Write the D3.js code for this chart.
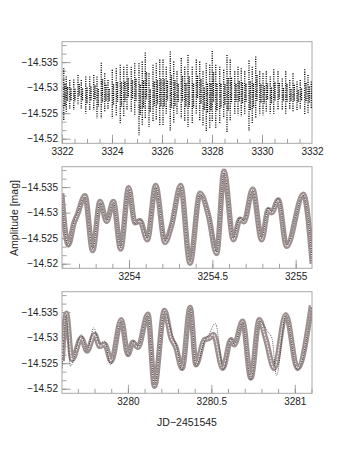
<!DOCTYPE html>
<html>
<head>
<meta charset="utf-8">
<script src="https://d3js.org/d3.v7.min.js"></script>
<style>
  body { margin:0; background:#fff; }
  svg text { font-family: "Liberation Sans", Arial, sans-serif; fill:#222; }
</style>
</head>
<body>
<script>
// ---- top panel: one entry per observing run (column of points) ----
var runDay = [3322.07, 3322.17, 3322.31, 3322.47, 3322.64, 3322.77, 3322.95, 3323.11, 3323.27, 3323.40,
              3323.57, 3323.71, 3323.84, 3324.01, 3324.17, 3324.33, 3324.47, 3324.60, 3324.77, 3324.91,
              3325.08, 3325.21, 3325.33, 3325.48, 3325.64, 3325.77, 3325.91, 3326.04, 3326.17, 3326.33,
              3326.47, 3326.60, 3326.77, 3326.91, 3327.04, 3327.21, 3327.37, 3327.51, 3327.64, 3327.77,
              3327.91, 3328.01, 3328.15, 3328.31, 3328.47, 3328.60, 3328.73, 3328.91, 3329.04, 3329.17,
              3329.31, 3329.48, 3329.61, 3329.75, 3329.91, 3330.04, 3330.17, 3330.33, 3330.47, 3330.64,
              3330.81, 3330.95, 3331.11, 3331.24, 3331.40, 3331.53, 3331.71, 3331.84, 3331.97];
var runHigh = [-14.5338, -14.5322, -14.5315, -14.5316, -14.5325, -14.5315, -14.5322, -14.5322, -14.5325, -14.5322,
               -14.5349, -14.5328, -14.5315, -14.5335, -14.5338, -14.5345, -14.5341, -14.5345, -14.5341, -14.5348,
               -14.5348, -14.5351, -14.5369, -14.5328, -14.5345, -14.5348, -14.5355, -14.5355, -14.5341, -14.5371,
               -14.5351, -14.5332, -14.5358, -14.5341, -14.5364, -14.5341, -14.5355, -14.5351, -14.5332, -14.5348,
               -14.5345, -14.5372, -14.5345, -14.5341, -14.5335, -14.5364, -14.5355, -14.5332, -14.5341, -14.5338,
               -14.5332, -14.5353, -14.5341, -14.5361, -14.5332, -14.5328, -14.5332, -14.5322, -14.5336, -14.5332,
               -14.5318, -14.5332, -14.5315, -14.5328, -14.5312, -14.5315, -14.5336, -14.5325, -14.5312];
var runLow  = [-14.5236, -14.5253, -14.5259, -14.5256, -14.5266, -14.5259, -14.5249, -14.5256, -14.5256, -14.5240,
               -14.5240, -14.5253, -14.5256, -14.5240, -14.5246, -14.5230, -14.5243, -14.5256, -14.5253, -14.5246,
               -14.5207, -14.5226, -14.5240, -14.5223, -14.5233, -14.5236, -14.5226, -14.5226, -14.5249, -14.5216,
               -14.5230, -14.5249, -14.5240, -14.5233, -14.5223, -14.5230, -14.5249, -14.5236, -14.5226, -14.5213,
               -14.5220, -14.5233, -14.5220, -14.5230, -14.5240, -14.5213, -14.5236, -14.5249, -14.5246, -14.5243,
               -14.5249, -14.5216, -14.5230, -14.5240, -14.5246, -14.5246, -14.5253, -14.5249, -14.5249, -14.5256,
               -14.5256, -14.5249, -14.5256, -14.5253, -14.5256, -14.5259, -14.5246, -14.5249, -14.5259];

// ---- middle panel: model (grey) and observed (dotted) light curve ----
var midDay   = [3253.596, 3253.636, 3253.670, 3253.690, 3253.736, 3253.782, 3253.826, 3253.866, 3253.906, 3253.950,
                3253.998, 3254.036, 3254.066, 3254.110, 3254.160, 3254.216, 3254.256, 3254.310, 3254.366, 3254.426,
                3254.476, 3254.526, 3254.570, 3254.626, 3254.666, 3254.690, 3254.742, 3254.796, 3254.836, 3254.856,
                3254.896, 3254.946, 3255.046, 3255.100];
var midModel = [-14.5338, -14.5237, -14.5280, -14.5296, -14.5333, -14.5226, -14.5322, -14.5283, -14.5322, -14.5229,
                -14.5349, -14.5280, -14.5284, -14.5247, -14.5353, -14.5242, -14.5276, -14.5353, -14.5201, -14.5338,
                -14.5296, -14.5220, -14.5381, -14.5247, -14.5287, -14.5282, -14.5346, -14.5247, -14.5306, -14.5300,
                -14.5325, -14.5234, -14.5336, -14.5200];
var midObs   = [-14.5336, -14.5234, -14.5282, -14.5298, -14.5331, -14.5229, -14.5320, -14.5285, -14.5320, -14.5232,
                -14.5347, -14.5278, -14.5287, -14.5250, -14.5351, -14.5245, -14.5278, -14.5351, -14.5204, -14.5336,
                -14.5299, -14.5223, -14.5378, -14.5250, -14.5290, -14.5284, -14.5344, -14.5250, -14.5309, -14.5302,
                -14.5328, -14.5237, -14.5334, -14.5203];

// ---- bottom panel ----
var botDay   = [3279.606, 3279.631, 3279.665, 3279.721, 3279.755, 3279.801, 3279.831, 3279.861, 3279.900, 3279.960,
                3280.000, 3280.030, 3280.060, 3280.120, 3280.159, 3280.219, 3280.259, 3280.285, 3280.325, 3280.373,
                3280.408, 3280.458, 3280.488, 3280.512, 3280.568, 3280.618, 3280.637, 3280.687, 3280.737, 3280.787,
                3280.827, 3280.876, 3280.946, 3281.016, 3281.100];
var botModel = [-14.5254, -14.5348, -14.5257, -14.5299, -14.5274, -14.5306, -14.5283, -14.5287, -14.5254, -14.5335,
                -14.5267, -14.5291, -14.5281, -14.5346, -14.5205, -14.5353, -14.5299, -14.5283, -14.5240, -14.5359,
                -14.5247, -14.5296, -14.5299, -14.5306, -14.5240, -14.5296, -14.5286, -14.5332, -14.5221, -14.5335,
                -14.5296, -14.5240, -14.5345, -14.5240, -14.5363];
var botObsDay = [3279.606, 3279.631, 3279.655, 3279.721, 3279.755, 3279.795, 3279.831, 3279.861, 3279.896, 3279.960,
                 3280.000, 3280.030, 3280.060, 3280.120, 3280.159, 3280.219, 3280.265, 3280.289, 3280.325, 3280.373,
                 3280.408, 3280.458, 3280.484, 3280.524, 3280.572, 3280.618, 3280.637, 3280.687, 3280.737, 3280.787,
                 3280.837, 3280.863, 3280.890, 3280.946, 3281.016, 3281.100];
var botObs   = [-14.5240, -14.5345, -14.5244, -14.5306, -14.5273, -14.5319, -14.5289, -14.5293, -14.5247, -14.5333,
                -14.5265, -14.5293, -14.5283, -14.5345, -14.5205, -14.5351, -14.5306, -14.5286, -14.5237, -14.5358,
                -14.5244, -14.5293, -14.5306, -14.5328, -14.5237, -14.5299, -14.5287, -14.5330, -14.5218, -14.5333,
                -14.5312, -14.5299, -14.5226, -14.5344, -14.5237, -14.5361];

// ---- axes ----
var magTicks  = [-14.52, -14.525, -14.53, -14.535];
var magLabels = ["\u221214.52", "\u221214.525", "\u221214.53", "\u221214.535"];
var topTicks  = [3322, 3324, 3326, 3328, 3330, 3332];
var topLabels = ["3322", "3324", "3326", "3328", "3330", "3332"];
var midTicks  = [3254, 3254.5, 3255];
var midLabels = ["3254", "3254.5", "3255"];
var botTicks  = [3280, 3280.5, 3281];
var botLabels = ["3280", "3280.5", "3281"];

var W = 354, H = 457;
var left = 62, right = 312, ph = 101.6;
var panelTop = [41.7, 166.7, 291.7];

var svg = d3.select("body").append("svg").attr("width", W).attr("height", H);

var y = d3.scaleLinear().domain([-14.5191, -14.5390]).range([ph, 0]);

function panel(i, xDomain, ticks, labels, minorStep, majorStep) {
    var x = d3.scaleLinear().domain(xDomain).range([0, right - left]);
    var g = svg.append("g").attr("transform", "translate(" + left + "," + panelTop[i] + ")");

    g.append("clipPath").attr("id", "clip" + i)
      .append("rect").attr("width", right - left).attr("height", ph);

    // minor / major ticks (drawn inside the frame, ROOT style)
    var minorX = d3.range(Math.ceil(xDomain[0] / minorStep) * minorStep, xDomain[1], minorStep);
    g.append("g").attr("transform", "translate(0," + ph + ")")
      .call(d3.axisBottom(x).tickValues(minorX).tickSize(-4.5).tickFormat(""));
    g.append("g").attr("transform", "translate(0," + ph + ")")
      .call(d3.axisBottom(x).tickValues(d3.range(Math.ceil(xDomain[0] / majorStep) * majorStep, xDomain[1], majorStep))
            .tickSize(-8.5).tickFormat(""));
    g.append("g").attr("transform", "translate(0," + ph + ")")
      .call(d3.axisBottom(x).tickValues(ticks).tickSize(0).tickPadding(5)
            .tickFormat(function(d, k) { return labels[k]; }))
      .selectAll("text").style("font-size", "10px");

    var minorY = d3.range(-14.52, -14.5391, -0.005 / 3);
    g.append("g").call(d3.axisLeft(y).tickValues(minorY).tickSize(-4.5).tickFormat(""));
    g.append("g").call(d3.axisLeft(y).tickValues(magTicks).tickSize(-8.5).tickPadding(4)
            .tickFormat(function(d, k) { return magLabels[k]; }))
      .selectAll("text").style("font-size", "10px").attr("x", -4);

    g.selectAll(".domain").remove();
    g.selectAll(".tick line").attr("stroke", "#8a8a8a").attr("stroke-width", 0.8);

    g.append("rect").attr("width", right - left).attr("height", ph)
      .attr("fill", "none").attr("stroke", "#a8a8a8").attr("stroke-width", 1);

    var plot = g.append("g").attr("clip-path", "url(#clip" + i + ")");
    return { x: x, plot: plot };
}

// top panel
var p0 = panel(0, [3322, 3332], topTicks, topLabels, 0.5, 2);
p0.plot.selectAll("line.run").data(runDay).enter().append("line")
  .attr("x1", function(d) { return p0.x(d); }).attr("x2", function(d) { return p0.x(d); })
  .attr("y1", function(d, k) { return y(runHigh[k]); })
  .attr("y2", function(d, k) { return y(runLow[k]); })
  .attr("stroke", "#000").attr("stroke-width", 1.3).attr("stroke-dasharray", "1.1 1.2");
// denser core of each run
p0.plot.selectAll("line.core").data(runDay).enter().append("line")
  .attr("x1", function(d) { return p0.x(d) + 1.2; }).attr("x2", function(d) { return p0.x(d) + 1.2; })
  .attr("y1", function(d, k) { return y(runHigh[k] + (runLow[k] - runHigh[k]) * 0.3); })
  .attr("y2", function(d, k) { return y(runHigh[k] + (runLow[k] - runHigh[k]) * 0.72); })
  .attr("stroke", "#000").attr("stroke-width", 1.4).attr("stroke-dasharray", "1.2 0.9");

function curve(p, days, model, obsDays, obs) {
    var mLine = d3.line().x(function(d) { return p.x(d[0]); }).y(function(d) { return y(d[1]); })
      .curve(d3.curveMonotoneX);
    var m = d3.zip(days, model), o = d3.zip(obsDays, obs);
    p.plot.append("path").attr("d", mLine(m)).attr("fill", "none")
      .attr("stroke", "#9d9090").attr("stroke-width", 5.5).attr("stroke-linejoin", "round");
    p.plot.append("path").attr("d", mLine(m)).attr("fill", "none")
      .attr("stroke", "#f4eeee").attr("stroke-width", 1.1).attr("stroke-dasharray", "2 1");
    p.plot.append("path").attr("d", mLine(o)).attr("fill", "none")
      .attr("stroke", "#111").attr("stroke-width", 0.8).attr("stroke-dasharray", "0.8 1.2");
}

var p1 = panel(1, [3253.598, 3255.098], midTicks, midLabels, 0.1, 0.5);
curve(p1, midDay, midModel, midDay, midObs);

var p2 = panel(2, [3279.605, 3281.103], botTicks, botLabels, 0.1, 0.5);
curve(p2, botDay, botModel, botObsDay, botObs);

svg.append("text").attr("x", 187).attr("y", 425.5).attr("text-anchor", "middle")
  .style("font-size", "10.5px").text("JD\u22122451545");
svg.append("text").attr("transform", "translate(18,218) rotate(-90)").attr("text-anchor", "middle")
  .style("font-size", "10.5px").text("Amplitude [mag]");
</script>
</body>
</html>
